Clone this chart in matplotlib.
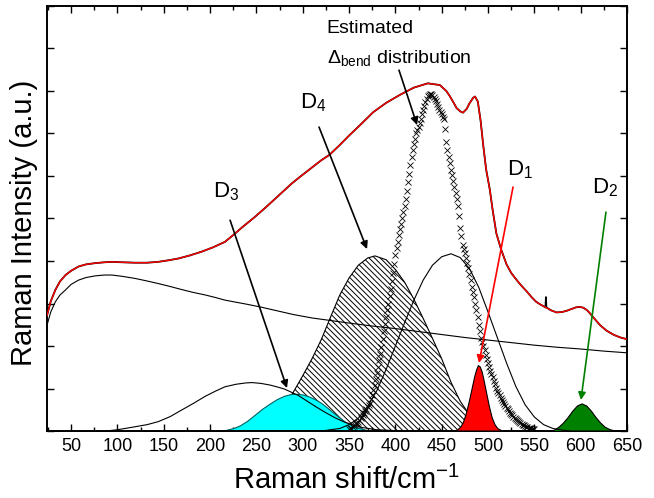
import numpy as np
import matplotlib
matplotlib.use('Agg')
import matplotlib.pyplot as plt
from matplotlib.ticker import MultipleLocator, NullFormatter

plt.rcParams['font.family'] = ['Liberation Sans', 'DejaVu Sans']
plt.rcParams['mathtext.fontset'] = 'custom'
plt.rcParams['mathtext.rm'] = 'Liberation Sans'
plt.rcParams['mathtext.it'] = 'Liberation Sans:italic'
plt.rcParams['hatch.linewidth'] = 0.7

# measured spectrum (fit) and the raw trace spike
fit_x = [24, 28, 33, 38, 44, 50, 58, 66, 76, 86, 94, 105, 119, 132, 144, 156, 166, 178, 191, 203,
         216, 225, 235, 248, 261, 275, 288, 297, 310, 320, 329, 340, 350, 362, 376, 390, 405, 420,
         435, 448, 455, 459, 463, 466, 470, 473, 477, 480, 484, 486, 489, 492, 495, 498, 502, 505,
         509, 514, 520, 525, 531, 536, 542, 547, 552, 557, 563, 568, 574, 580, 585, 590, 595, 599,
         603, 607, 610, 615, 621, 628, 636, 643, 650]
fit_y = [2.72, 3.05, 3.32, 3.52, 3.67, 3.77, 3.87, 3.92, 3.95, 3.97, 3.98, 3.97, 3.96, 3.96, 3.98,
         4.02, 4.06, 4.13, 4.22, 4.32, 4.45, 4.61, 4.8, 5.03, 5.28, 5.56, 5.82, 5.98, 6.2, 6.37, 6.5,
         6.73, 6.95, 7.2, 7.5, 7.72, 7.91, 8.08, 8.18, 8.14, 8.0, 7.87, 7.72, 7.6, 7.52, 7.49, 7.58,
         7.71, 7.84, 7.87, 7.75, 7.3, 6.69, 6.15, 5.67, 5.2, 4.65, 4.28, 3.92, 3.72, 3.55, 3.42, 3.28,
         3.15, 3.04, 2.97, 2.9, 2.84, 2.79, 2.8, 2.83, 2.87, 2.91, 2.92, 2.9, 2.84, 2.77, 2.64, 2.49,
         2.36, 2.26, 2.2, 2.16]
spike_x = [562, 562.5, 563.5]
spike_y = [2.91, 3.15, 2.9]

# broad background
bg_x = [24, 28, 33, 38, 44, 50, 58, 66, 76, 86, 94, 105, 119, 132, 144, 157, 169, 182, 195, 206,
        216, 228, 238, 254, 270, 290, 310, 330, 350, 375, 400, 425, 450, 475, 500, 525, 550, 575,
        600, 625, 650]
bg_y = [2.49, 2.8, 3.04, 3.2, 3.32, 3.45, 3.55, 3.61, 3.65, 3.67, 3.67, 3.64, 3.59, 3.53, 3.47,
        3.4, 3.33, 3.26, 3.2, 3.14, 3.08, 3.03, 2.99, 2.92, 2.84, 2.74, 2.66, 2.6, 2.54, 2.47, 2.41,
        2.34, 2.27, 2.2, 2.14, 2.08, 2.02, 1.97, 1.93, 1.88, 1.84]

# unfilled band near 245
b245_x = [87, 100, 119, 132, 144, 157, 169, 182, 195, 206, 216, 228, 238, 245, 255, 265, 272, 280,
          286, 295, 305, 315, 325, 335, 345, 355, 365, 380, 400, 420, 560]
b245_y = [0, 0.03, 0.1, 0.15, 0.22, 0.34, 0.49, 0.65, 0.82, 0.94, 1.04, 1.1, 1.13, 1.14, 1.12,
          1.08, 1.04, 0.99, 0.93, 0.84, 0.7, 0.56, 0.43, 0.31, 0.21, 0.14, 0.08, 0.03, 0.01, 0, 0]

# unfilled band near 460
b460_x = [320, 340, 350, 360, 370, 380, 390, 400, 410, 420, 430, 440, 450, 460, 470, 480, 490,
          500, 510, 520, 530, 540, 550, 560, 570, 580, 590, 650]
b460_y = [0, 0.06, 0.15, 0.3, 0.58, 0.95, 1.45, 2.0, 2.55, 3.08, 3.55, 3.9, 4.1, 4.17, 4.08,
          3.82, 3.38, 2.8, 2.2, 1.6, 1.05, 0.62, 0.33, 0.15, 0.06, 0.02, 0, 0]

# D3 (cyan)
d3_x = [24, 210, 218, 225, 232, 240, 248, 256, 264, 272, 280, 287, 293, 300, 307, 313, 320, 327,
        333, 340, 347, 354, 361, 368, 376, 385, 650]
d3_y = [0, 0, 0.03, 0.07, 0.13, 0.24, 0.38, 0.52, 0.64, 0.75, 0.83, 0.87, 0.875, 0.86, 0.81,
        0.75, 0.66, 0.54, 0.43, 0.31, 0.2, 0.12, 0.07, 0.03, 0.01, 0, 0]

# D4 (hatched)
d4_x = [240, 260, 280, 290, 300, 310, 320, 330, 340, 350, 360, 370, 378, 390, 400, 410, 420,
        430, 440, 450, 460, 470, 480, 490, 500, 510, 520]
d4_y = [0.08, 0.25, 0.6, 0.92, 1.3, 1.7, 2.15, 2.68, 3.2, 3.6, 3.9, 4.07, 4.12, 4.03, 3.8, 3.5,
        3.1, 2.65, 2.18, 1.7, 1.15, 0.7, 0.38, 0.18, 0.07, 0.02, 0]

# D1 (red)
d1_x = [455, 462, 466, 470, 473, 476, 479, 482, 485, 487, 489, 491, 493, 495, 498, 501, 504,
        507, 510, 514, 520]
d1_y = [0, 0.01, 0.03, 0.1, 0.22, 0.42, 0.68, 0.98, 1.28, 1.44, 1.55, 1.52, 1.41, 1.22, 0.9,
        0.58, 0.32, 0.16, 0.07, 0.02, 0]

# D2 (green)
d2_x = [560, 566, 571, 576, 581, 586, 591, 596, 601, 606, 611, 616, 621, 626, 631, 636, 642]
d2_y = [0, 0.01, 0.03, 0.1, 0.2, 0.33, 0.48, 0.6, 0.65, 0.6, 0.48, 0.33, 0.2, 0.1, 0.045, 0.015, 0]

# estimated Delta_bend distribution (crosses), sampled every 1.25 cm-1 from 350 to 550
est_x = np.arange(350, 550.01, 1.25)
est_y = [0.04, 0.06, 0.08, 0.1, 0.12, 0.145, 0.17, 0.195, 0.22, 0.26, 0.3, 0.34, 0.38, 0.42,
         0.47, 0.51, 0.56, 0.61, 0.67, 0.75, 0.85, 0.96, 1.08, 1.22, 1.36, 1.51, 1.66, 1.82,
         1.98, 2.16, 2.35, 2.52, 2.68, 2.84, 3.0, 3.17, 3.35, 3.53, 3.72, 3.93, 4.15, 4.3,
         4.45, 4.6, 4.75, 4.88, 5.0, 5.15, 5.3, 5.47, 5.65, 5.85, 6.05, 6.25, 6.45, 6.6, 6.75,
         6.88, 7.0, 7.08, 7.16, 7.25, 7.35, 7.45, 7.55, 7.65, 7.75, 7.82, 7.88, 7.91, 7.92,
         7.92, 7.9, 7.86, 7.82, 7.76, 7.7, 7.63, 7.56, 7.5, 7.45, 7.39, 7.33, 7.1, 6.8, 6.62,
         6.45, 6.3, 6.15, 6.02, 5.88, 5.74, 5.6, 5.45, 5.3, 5.05, 4.78, 4.58, 4.38, 4.29, 4.2,
         4.08, 3.95, 3.83, 3.7, 3.55, 3.4, 3.28, 3.15, 3.0, 2.85, 2.68, 2.5, 2.35, 2.2, 2.1,
         2.0, 1.9, 1.8, 1.7, 1.6, 1.51, 1.42, 1.34, 1.26, 1.18, 1.1, 1.02, 0.95, 0.9, 0.84,
         0.78, 0.73, 0.68, 0.64, 0.6, 0.55, 0.51, 0.47, 0.43, 0.4, 0.37, 0.34, 0.31, 0.28,
         0.25, 0.23, 0.21, 0.19, 0.17, 0.15, 0.13, 0.12, 0.1, 0.09, 0.08, 0.07, 0.06, 0.05,
         0.045, 0.04]

raw = sorted(zip(fit_x + spike_x, fit_y + spike_y))
raw_x = [p[0] for p in raw]
raw_y = [p[1] for p in raw]

fig = plt.figure(figsize=(6.54, 4.98), dpi=100)
ax = fig.add_axes([0.0719, 0.1345, 0.8868, 0.8535])

ax.fill_between(d4_x, d4_y, 0, facecolor='white', edgecolor='black', hatch='\\\\\\\\\\\\',
                lw=0.8, zorder=1)
ax.fill_between(d3_x, d3_y, 0, facecolor='#00ffff', edgecolor='#006060', lw=0.8, zorder=2)
ax.fill_between(d1_x, d1_y, 0, facecolor='#ff0000', edgecolor='black', lw=0.8, zorder=3)
ax.fill_between(d2_x, d2_y, 0, facecolor='#008000', edgecolor='black', lw=0.8, zorder=3)
ax.plot(b245_x, b245_y, 'k', lw=0.8, zorder=3)
ax.plot(b460_x, b460_y, 'k', lw=0.8, zorder=3)
ax.plot(bg_x, bg_y, 'k', lw=0.8, zorder=3)
ax.plot(est_x, est_y, 'x', color='black', ms=4, mew=0.6, zorder=4)
ax.plot(raw_x, raw_y, 'k', lw=1.3, zorder=5)
ax.plot(fit_x, fit_y, color='red', lw=1.0, zorder=6)

arrow = dict(arrowstyle='-|>', lw=1.2, mutation_scale=11, shrinkA=0, shrinkB=0)
ax.annotate('', xy=(283, 1.01), xytext=(221.6, 4.96), arrowprops=dict(arrow, color='black'), zorder=7)
ax.annotate('', xy=(369.4, 4.28), xytext=(317.6, 7.15), arrowprops=dict(arrow, color='black'), zorder=7)
ax.annotate('', xy=(423.4, 7.2), xytext=(403.9, 8.49), arrowprops=dict(arrow, color='black'), zorder=7)
ax.annotate('', xy=(490.3, 1.6), xytext=(527, 5.74), arrowprops=dict(arrow, color='red'), zorder=7)
ax.annotate('', xy=(600.3, 0.73), xytext=(627.3, 5.15), arrowprops=dict(arrow, color='green'), zorder=7)

ax.text(326, 9.36, 'Estimated', fontsize=14)
ax.text(326, 8.66, r'$\Delta_{\mathrm{bend}}$ distribution', fontsize=14)
ax.text(297, 7.6, r'$\mathrm{D}_{4}$', fontsize=16)
ax.text(203, 5.5, r'$\mathrm{D}_{3}$', fontsize=16)
ax.text(520.5, 6.02, r'$\mathrm{D}_{1}$', fontsize=16)
ax.text(612, 5.6, r'$\mathrm{D}_{2}$', fontsize=16)

ax.set_xlim(24, 650)
ax.set_ylim(0, 10)
ax.xaxis.set_major_locator(MultipleLocator(50))
ax.xaxis.set_minor_locator(MultipleLocator(25))
ax.yaxis.set_major_locator(MultipleLocator(1))
ax.yaxis.set_major_formatter(NullFormatter())
ax.tick_params(which='both', direction='in', top=True, right=True, width=1)
ax.tick_params(which='major', length=5, labelsize=13, pad=5)
ax.tick_params(which='minor', length=3)
for s in ax.spines.values():
    s.set_linewidth(1.4)

ax.set_xlabel('Raman shift/cm$^{-1}$', fontsize=21)
ax.set_ylabel('Raman Intensity (a.u.)', fontsize=21)
ax.xaxis.set_label_coords(0.517, -0.083)
ax.yaxis.set_label_coords(-0.016, 0.49)

fig.savefig('out.png', dpi=100)
